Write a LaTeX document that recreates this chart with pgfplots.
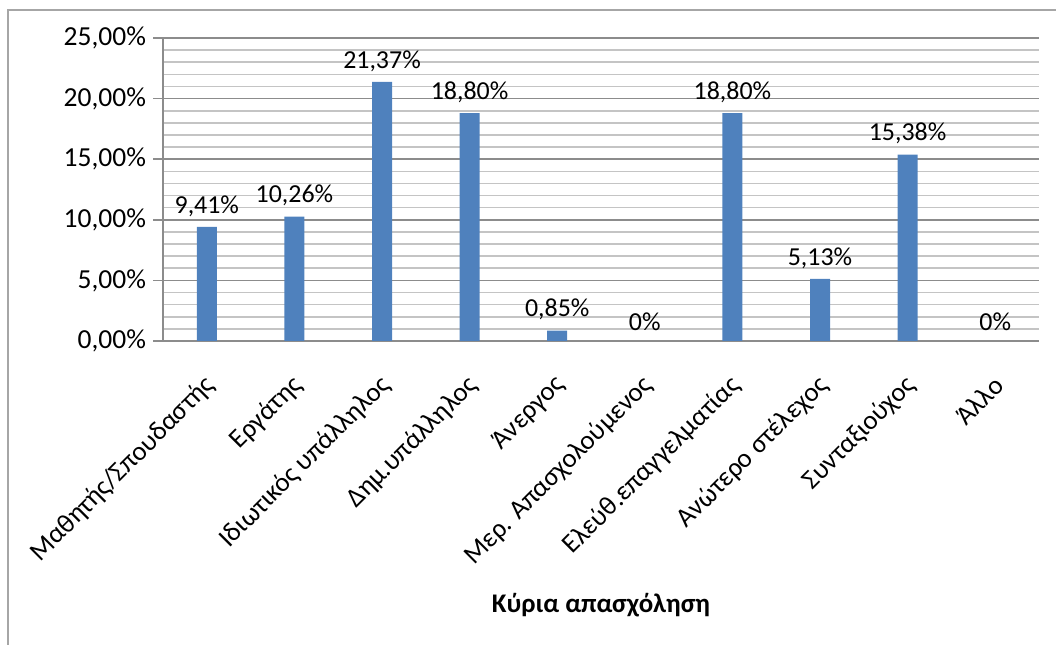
\documentclass[border=0pt]{standalone}
\usepackage{fontspec}
\setmainfont{Carlito}
\usepackage{pgfplots}
\pgfplotsset{compat=1.18}
\usepackage{pgfplotstable}

\definecolor{barblue}{HTML}{4F81BD}
\definecolor{majgrid}{HTML}{8C8C8C}
\definecolor{mingrid}{HTML}{C4C4C4}
\definecolor{framegray}{HTML}{A6A6A6}

\pgfplotstableread{
x  y     lab
0  9.41  9,41\%
1  10.26 10,26\%
2  21.37 21,37\%
3  18.80 18,80\%
4  0.85  0,85\%
5  0     0\%
6  18.80 18,80\%
7  5.13  5,13\%
8  15.38 15,38\%
9  0     0\%
}\occupation

\begin{document}
\begin{tikzpicture}
\useasboundingbox (0,0) rectangle (528bp,322.5bp);
\draw[framegray, line width=1bp] (4bp,0) -- (4bp,317.5bp) -- (528bp,317.5bp);
\begin{axis}[
    at={(81.5bp,152bp)}, anchor=south west,
    scale only axis,
    width=438bp, height=151.5bp,
    xmin=-0.5, xmax=9.5,
    ymin=0, ymax=25,
    ytick={0,5,10,15,20,25},
    minor y tick num=4,
    ymajorgrids, yminorgrids,
    major grid style={majgrid, line width=0.8bp},
    minor grid style={mingrid, line width=0.8bp},
    axis x line*=bottom, axis y line*=left,
    axis line style={majgrid, line width=0.8bp},
    tick align=outside,
    major tick length=5bp,
    minor tick length=0pt,
    major x tick style={draw=none},
    y tick style={majgrid, line width=0.8bp},
    xtick={0,...,9},
    xticklabels={Μαθητής/Σπουδαστής, Εργάτης, Ιδιωτικός υπάλληλος, Δημ.υπάλληλος, Άνεργος, Μερ. Απασχολούμενος, Ελεύθ.επαγγελματίας, Ανώτερο στέλεχος, Συνταξιούχος, Άλλο},
    xticklabel style={font=\fontsize{13.5}{15}\selectfont, inner sep=0pt, anchor=east, xshift=2bp, yshift=-15bp, rotate=45},
    /pgf/number format/assume math mode=true,
    yticklabel={\pgfmathprintnumber[fixed,fixed zerofill,precision=2,use comma]{\tick}\%},
    yticklabel style={font=\fontsize{13.8}{15}\selectfont},
    xlabel={Κύρια απασχόληση},
    xlabel style={font=\fontsize{13.5}{15}\selectfont\bfseries, at={(axis description cs:0.5,-0.871)}, anchor=center},
    nodes near coords,
    point meta=explicit symbolic,
    nodes near coords style={font=\fontsize{13}{15}\selectfont, black, anchor=south, inner sep=0pt, yshift=5bp},
]
\addplot[ybar, bar width=10bp, fill=barblue, draw=none] table[x=x, y=y, meta=lab] {\occupation};
\end{axis}
\end{tikzpicture}
\end{document}
